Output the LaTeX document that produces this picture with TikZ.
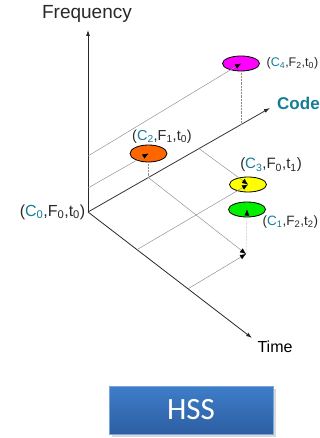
\documentclass[tikz,border=0pt]{standalone}
\usepackage{fontspec}
\setmainfont{Liberation Sans}
\newfontfamily\btnfont{Carlito}
\usetikzlibrary{shapes.geometric, arrows.meta, positioning, calc, shadows}
\definecolor{axisgray}{RGB}{40,40,40}
\definecolor{gridgray}{RGB}{140,140,140}
\definecolor{codeteal}{RGB}{20,125,150}
\definecolor{hopmag}{RGB}{255,0,255}
\definecolor{hoporange}{RGB}{255,102,0}
\definecolor{hopyellow}{RGB}{255,255,0}
\definecolor{hopgreen}{RGB}{0,240,0}
\definecolor{btntop}{RGB}{62,126,202}
\definecolor{btnbot}{RGB}{45,94,162}
\newcommand{\hop}[3]{(\textcolor{codeteal}{C\textsubscript{#1}},F\textsubscript{#2},t\textsubscript{#3})}

\begin{document}
\begin{tikzpicture}[x=1pt, y=-1pt,
            axis/.style={-{Latex[length=6pt,width=4pt]}, line width=0.8pt, axisgray},
            grid/.style={gridgray, line width=0.45pt},
            hopline/.style={grid, -{Latex[length=6pt,width=5pt,color=black]}},
            drop/.style={grid, densely dotted},
            slot/.style={ellipse, draw=black, line width=0.8pt, minimum width=37pt, minimum height=15pt, inner sep=0pt},
            lbl/.style={text=axisgray, inner sep=0.5pt},
        ]
            \useasboundingbox (0,0) rectangle (320,438);

            % Axes
            \coordinate (O) at (88,212);
            \coordinate (ftip) at (88,30);
            \coordinate (ctip) at (270,108);
            \coordinate (ttip) at (252,338);
            \draw[axis] (O) -- (ftip);
            \draw[axis] (O) -- (ctip);
            \draw[axis] (O) -- (ttip);
            \node[text=axisgray, font=\fontsize{19}{22}\selectfont] (freq) at (87,14) {Frequency};
            \node[anchor=west, inner sep=0pt, text=codeteal, font=\fontsize{17}{20}\selectfont\bfseries] (code) at (277,103) {Code};
            \node[anchor=west, text=black, font=\fontsize{16}{19}\selectfont] (time) at (254,347) {Time};

            % Grid points
            \coordinate (f1) at (88,188);
            \coordinate (f2) at (88,156);
            \coordinate (k2) at (148.5,177.7);
            \coordinate (k3) at (199,148.6);
            \coordinate (k4) at (241,124.6);
            \coordinate (t1) at (137,249.6);
            \coordinate (t2) at (188,288.8);
            \coordinate (p) at (246,254);

            % Hop slots
            \node[slot, fill=hopmag] (c4) at (241,63.5) {};
            \node[slot, fill=hoporange, minimum height=17pt] (c2) at (148.5,153.5) {};
            \node[slot, fill=hopyellow] (c3) at (248,184.5) {};
            \node[slot, fill=hopgreen] (c1) at (247,209.5) {};

            % Hop lines
            \draw[drop] (c4.south) -- (k4);
            \draw[drop] (c2.south) -- (k2);
            \draw[hopline] (f2) -- (c4.center);
            \draw[hopline] (f1) -- (c2.center);
            \draw[hopline] (k2) -- (p);
            \draw[hopline] (t2) -- (p);
            \draw[hopline] (k3) -- (c3.center);
            \draw[hopline] (t1) -- (c3.center);
            \draw[hopline, densely dotted] (p) -- (c1.center);

            % Labels
            \node[lbl, anchor=east, font=\fontsize{16}{18}\selectfont] (l0) at (86,212) {\hop000};
            \node[lbl, font=\fontsize{14.5}{16}\selectfont] (l2) at (162,137) {\hop210};
            \node[lbl, font=\fontsize{15}{17}\selectfont] (l3) at (271,165) {\hop301};
            \node[lbl, anchor=west, font=\fontsize{13.5}{15}\selectfont] (l1) at (262,222) {\hop122};
            \node[lbl, anchor=west, font=\fontsize{12.5}{14}\selectfont] (l4) at (266,63) {\hop420};

            % Button
            \node[rectangle, minimum width=164pt, minimum height=48pt, top color=btntop, bottom color=btnbot,
                  draw=btntop!70!white, line width=0.6pt, drop shadow={opacity=0.3},
                  text=white, font=\btnfont\fontsize{31}{36}\selectfont] (hss) at (191,410) {HSS};
        \end{tikzpicture}
\end{document}
